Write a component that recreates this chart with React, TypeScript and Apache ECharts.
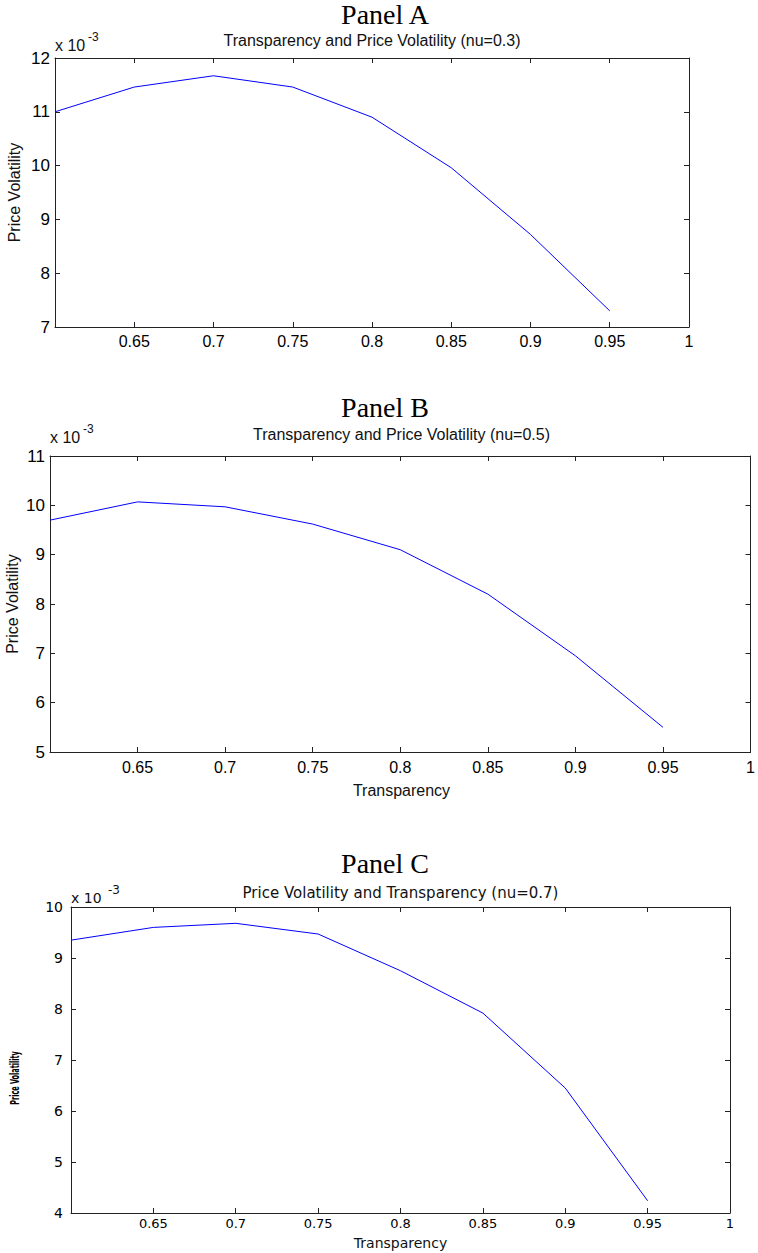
import React, { useEffect, useRef } from "react";
import * as echarts from "echarts";

const transparency = [0.6, 0.65, 0.7, 0.75, 0.8, 0.85, 0.9, 0.95];
const volA = [11.0, 11.46, 11.67, 11.46, 10.9, 9.96, 8.72, 7.3];
const volB = [9.7, 10.07, 9.97, 9.62, 9.1, 8.2, 6.95, 5.5];
const volC = [9.35, 9.6, 9.68, 9.47, 8.75, 7.92, 6.45, 4.24];

const xRange = [0.6, 1.0];
const xStep = 0.05;
const yRangeA = [7, 12];
const yRangeB = [5, 11];
const yRangeC = [4, 10];

const panelNames = ["Panel A", "Panel B", "Panel C"];
const subTitles = [
  "Transparency and Price Volatility (nu=0.3)",
  "Transparency and Price Volatility (nu=0.5)",
  "Price Volatility and Transparency (nu=0.7)",
];
const yName = "Price Volatility";
const xName = "Transparency";

const NARROW = "'Liberation Sans Narrow', 'Arial Narrow', Arial, 'Liberation Sans', sans-serif";
const WIDE = "'DejaVu Sans', Verdana, sans-serif";
const SERIF = "'Liberation Serif', 'DejaVu Serif', serif";
const AXIS_COLOR = "#222";

type Layout = {
  grid: { left: number; top: number; width: number; height: number };
  font: string;
  tickFont: number;
  yTickFont: number;
  xMargin: number;
  yMargin: number;
  panelY: number;
  subY: number;
  subFont: number;
  expX: number;
  expY: number;
  expOff: number;
  yNameX: number;
  xNameY: number | null;
  xNameFont: number;
};

const layouts: Layout[] = [
  { grid: { left: 55, top: 58, width: 634, height: 269 }, font: NARROW, tickFont: 16, yTickFont: 17, xMargin: 6, yMargin: 5, panelY: 14, subY: 40, subFont: 16, expX: 55, expY: 45, expOff: 33, yNameX: 14, xNameY: null, xNameFont: 16 },
  { grid: { left: 50, top: 456, width: 703, height: 296 }, font: NARROW, tickFont: 16, yTickFont: 17, xMargin: 7, yMargin: 5, panelY: 407, subY: 434, subFont: 16, expX: 50, expY: 437, expOff: 33, yNameX: 12, xNameY: 790, xNameFont: 16 },
  { grid: { left: 71, top: 907, width: 659, height: 306 }, font: WIDE, tickFont: 13, yTickFont: 14, xMargin: 4, yMargin: 8, panelY: 863, subY: 893, subFont: 15, expX: 71, expY: 898, expOff: 37, yNameX: 14, xNameY: 1243, xNameFont: 14 },
];

const seriesData = [volA, volB, volC];
const yRanges = [yRangeA, yRangeB, yRangeC];

function buildOption() {
  const grid: any[] = [];
  const xAxis: any[] = [];
  const yAxis: any[] = [];
  const series: any[] = [];
  const graphic: any[] = [];

  layouts.forEach((L, i) => {
    grid.push({ ...L.grid, containLabel: false });
    const common = {
      type: "value",
      gridIndex: i,
      splitLine: { show: false },
      axisLine: { show: true, onZero: false, lineStyle: { color: AXIS_COLOR, width: 1 } },
      axisTick: { show: true, inside: true, length: 5, lineStyle: { color: AXIS_COLOR } },
    };
    const xBase = { ...common, min: xRange[0], max: xRange[1], interval: xStep };
    xAxis.push({
      ...xBase,
      position: "bottom",
      axisLabel: {
        show: true,
        showMinLabel: false,
        margin: L.xMargin,
        color: "#000",
        fontFamily: L.font,
        fontSize: L.tickFont,
        formatter: (v: number) => String(Math.round(v * 100) / 100),
      },
    });
    xAxis.push({ ...xBase, position: "top", axisLabel: { show: false } });
    const [ymin, ymax] = yRanges[i];
    const yBase = { ...common, min: ymin, max: ymax, interval: 1 };
    yAxis.push({
      ...yBase,
      position: "left",
      axisLabel: { show: true, margin: L.yMargin, color: "#000", fontFamily: L.font, fontSize: L.yTickFont },
    });
    yAxis.push({ ...yBase, position: "right", axisLabel: { show: false } });

    series.push({
      type: "line",
      xAxisIndex: 2 * i,
      yAxisIndex: 2 * i,
      data: transparency.map((x, k) => [x, seriesData[i][k]]),
      showSymbol: false,
      symbol: "none",
      lineStyle: { color: "#0000ff", width: 1 },
    });

    const cx = L.grid.left + L.grid.width / 2;
    graphic.push({
      type: "text",
      x: 385,
      y: L.panelY,
      style: { text: panelNames[i], fontFamily: SERIF, fontSize: 28, fill: "#000", textAlign: "center", textVerticalAlign: "middle" },
    });
    graphic.push({
      type: "text",
      x: cx,
      y: L.subY,
      style: { text: subTitles[i], fontFamily: L.font, fontSize: L.subFont, fill: "#111", textAlign: "center", textVerticalAlign: "middle" },
    });
    graphic.push({
      type: "text",
      x: L.expX,
      y: L.expY,
      style: { text: "x 10", fontFamily: L.font, fontSize: L.tickFont + (i === 2 ? 1 : 0), fill: "#111", textAlign: "left", textVerticalAlign: "middle" },
    });
    graphic.push({
      type: "text",
      x: L.expX + L.expOff,
      y: L.expY - 8,
      style: { text: "-3", fontFamily: L.font, fontSize: 12, fill: "#111", textAlign: "left", textVerticalAlign: "middle" },
    });
    const cy = L.grid.top + L.grid.height / 2;
    if (i === 2) {
      graphic.push({
        type: "text",
        x: L.yNameX,
        y: cy + 18,
        rotation: Math.PI / 2,
        scaleX: 0.5,
        style: { text: yName, fontFamily: L.font, fontSize: 13, fontWeight: "bold", fill: "#000", textAlign: "center", textVerticalAlign: "middle" },
      });
    } else {
      graphic.push({
        type: "text",
        x: L.yNameX,
        y: cy,
        rotation: Math.PI / 2,
        style: { text: yName, fontFamily: L.font, fontSize: 16, fill: "#111", textAlign: "center", textVerticalAlign: "middle" },
      });
    }
    if (L.xNameY !== null) {
      graphic.push({
        type: "text",
        x: cx,
        y: L.xNameY,
        style: { text: xName, fontFamily: L.font, fontSize: L.xNameFont, fill: "#111", textAlign: "center", textVerticalAlign: "middle" },
      });
    }
  });

  return { animation: false, backgroundColor: "#fff", grid, xAxis, yAxis, series, graphic };
}

export default function App() {
  const ref = useRef<HTMLDivElement>(null);
  useEffect(() => {
    if (!ref.current) return;
    const chart = echarts.init(ref.current, undefined, { renderer: "svg" });
    chart.setOption(buildOption() as any);
    return () => chart.dispose();
  }, []);
  return <div ref={ref} style={{ position: "absolute", left: 0, top: 0, width: 758, height: 1253 }} />;
}
